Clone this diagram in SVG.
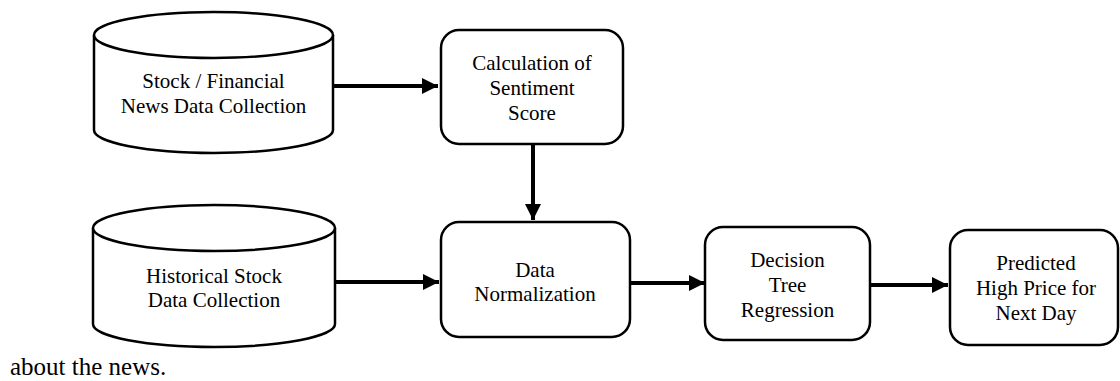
<svg xmlns="http://www.w3.org/2000/svg" width="1120" height="381" viewBox="0 0 1120 381">
<style>
.shape{fill:#fff;stroke:#000;stroke-width:2.5}
.t{font-size:21px;fill:#000;text-anchor:middle}
.conn{stroke:#000;stroke-width:4;fill:none}
</style>
<defs>
<marker id="ah" markerWidth="4" markerHeight="4" refX="4" refY="2" orient="auto" markerUnits="strokeWidth">
<path d="M0,0 L4,2 L0,4 Z" fill="#000"/>
</marker>
</defs>
<rect width="1120" height="381" fill="#fff"/>
<g id="connectors">
<line class="conn" x1="333" y1="86" x2="438" y2="86" marker-end="url(#ah)"/>
<line class="conn" x1="533" y1="144" x2="533" y2="220" marker-end="url(#ah)"/>
<line class="conn" x1="335" y1="282" x2="439" y2="282" marker-end="url(#ah)"/>
<line class="conn" x1="630" y1="283" x2="705" y2="283" marker-end="url(#ah)"/>
<line class="conn" x1="870" y1="285" x2="948" y2="285" marker-end="url(#ah)"/>
</g>
<g font-family="Liberation Serif, Times New Roman, serif">
<g id="news-data">
<path class="shape" d="M94,35 L94,130 A119.5,23 0 0 0 333,130 L333,35"/>
<ellipse class="shape" cx="213.5" cy="35" rx="119.5" ry="23"/>
<text class="t" x="213.5" y="88">Stock / Financial</text>
<text class="t" x="213.5" y="113">News Data Collection</text>
</g>
<g id="sentiment">
<rect class="shape" x="441" y="30" width="182" height="114" rx="18"/>
<text class="t" x="532" y="70">Calculation of</text>
<text class="t" x="532" y="95">Sentiment</text>
<text class="t" x="532" y="120">Score</text>
</g>
<g id="historical-data">
<path class="shape" d="M93,228 L93,324 A121,23 0 0 0 335,324 L335,228"/>
<ellipse class="shape" cx="214" cy="228" rx="121" ry="23"/>
<text class="t" x="214" y="283">Historical Stock</text>
<text class="t" x="214" y="307">Data Collection</text>
</g>
<g id="normalization">
<rect class="shape" x="441" y="222" width="189" height="115" rx="18"/>
<text class="t" x="535" y="277">Data</text>
<text class="t" x="535" y="301">Normalization</text>
</g>
<g id="decision-tree">
<rect class="shape" x="705" y="227" width="165" height="113" rx="18"/>
<text class="t" x="787.5" y="267">Decision</text>
<text class="t" x="787.5" y="292">Tree</text>
<text class="t" x="787.5" y="317">Regression</text>
</g>
<g id="predicted">
<rect class="shape" x="950" y="230" width="168" height="115" rx="18"/>
<text class="t" x="1036" y="270">Predicted</text>
<text class="t" x="1036" y="295">High Price for</text>
<text class="t" x="1036" y="320">Next Day</text>
</g>
<text x="10" y="375" font-size="25">about the news.</text>
</g>
</svg>
